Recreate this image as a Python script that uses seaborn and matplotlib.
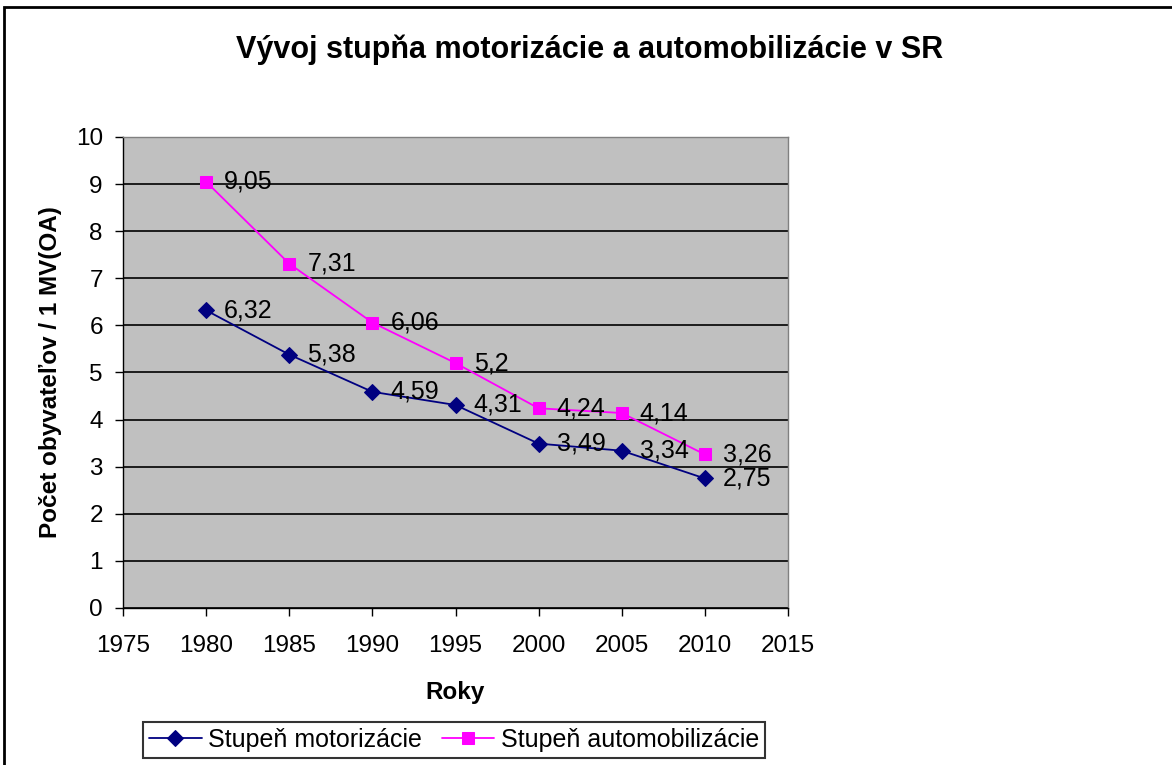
import numpy as np
import pandas as pd
import matplotlib
matplotlib.use("Agg")
import matplotlib.pyplot as plt
import seaborn as sns
from matplotlib.patches import Rectangle

roky = [1980, 1985, 1990, 1995, 2000, 2005, 2010]
motorizacia = [6.32, 5.38, 4.59, 4.31, 3.49, 3.34, 2.75]
automobilizacia = [9.05, 7.31, 6.06, 5.2, 4.24, 4.14, 3.26]
x_ticks = [1975, 1980, 1985, 1990, 1995, 2000, 2005, 2010, 2015]
y_ticks = list(range(0, 11))

sns.set_style("white")
plt.rcParams["font.family"] = ["Liberation Sans", "DejaVu Sans"]
plt.rcParams["text.color"] = "black"
plt.rcParams["axes.labelcolor"] = "black"
plt.rcParams["xtick.color"] = "black"
plt.rcParams["ytick.color"] = "black"

fig = plt.figure(figsize=(11.72, 7.65), dpi=100)
ax = fig.add_axes([123 / 1172, 1 - 608 / 765, (788 - 123) / 1172, (608 - 137) / 765])
ax.set_facecolor("#C0C0C0")

# ramik okolo celeho grafu
fig.patches.append(Rectangle((3.5 / 1172, -0.2), 1.5, 0.2 + (1 - 6.5 / 765),
                             transform=fig.transFigure, fill=False,
                             edgecolor="black", linewidth=2))

df = pd.DataFrame({"rok": roky, "mot": motorizacia, "auto": automobilizacia})

sns.lineplot(data=df, x="rok", y="mot", ax=ax, color="#000080", marker="D",
             markersize=8, markeredgecolor="#000080", linewidth=1.3,
             label="Stupeň motorizácie")
sns.lineplot(data=df, x="rok", y="auto", ax=ax, color="#FF00FF", marker="s",
             markersize=8, markeredgecolor="#FF00FF", linewidth=1.3,
             label="Stupeň automobilizácie")

for serie in [motorizacia, automobilizacia]:
    for r, v in zip(roky, serie):
        txt = f"{v:g}".replace(".", ",")
        ax.annotate(txt, (r, v), xytext=(13, 0), textcoords="offset points",
                    va="center", ha="left", fontsize=18)

ax.set_xlim(1975, 2015)
ax.set_ylim(0, 10)
ax.set_xticks(x_ticks)
ax.set_yticks(y_ticks)
ax.yaxis.grid(True, color="black", linewidth=1.2)
ax.xaxis.grid(False)
ax.set_axisbelow(True)
ax.tick_params(axis="both", labelsize=17.5, direction="out", length=5.5,
               width=1, color="black", bottom=True, left=True)
ax.tick_params(axis="x", pad=14)
ax.tick_params(axis="y", pad=9)

for s in ["left", "bottom"]:
    ax.spines[s].set_color("black")
    ax.spines[s].set_linewidth(1)
for s in ["top", "right"]:
    ax.spines[s].set_color("#808080")
    ax.spines[s].set_linewidth(1)

ax.set_xlabel("Roky", fontsize=17.5, fontweight="bold", labelpad=17)
ax.set_ylabel("Počet obyvateľov / 1 MV(OA)", fontsize=17.5, fontweight="bold", labelpad=10)

fig.text(590 / 1172, 1 - 50 / 765, "Vývoj stupňa motorizácie a automobilizácie v SR",
         ha="center", va="center", fontsize=22, fontweight="bold")

leg = ax.legend(loc="center", bbox_to_anchor=(454 / 1172, 1 - 740 / 765),
                bbox_transform=fig.transFigure, ncol=2, fontsize=18,
                frameon=True, fancybox=False, edgecolor="black",
                handlelength=2.1, columnspacing=0.8, handletextpad=0.25,
                borderpad=0.25, borderaxespad=0)
leg.get_frame().set_linewidth(1.5)

fig.savefig("out.png", dpi=100)
